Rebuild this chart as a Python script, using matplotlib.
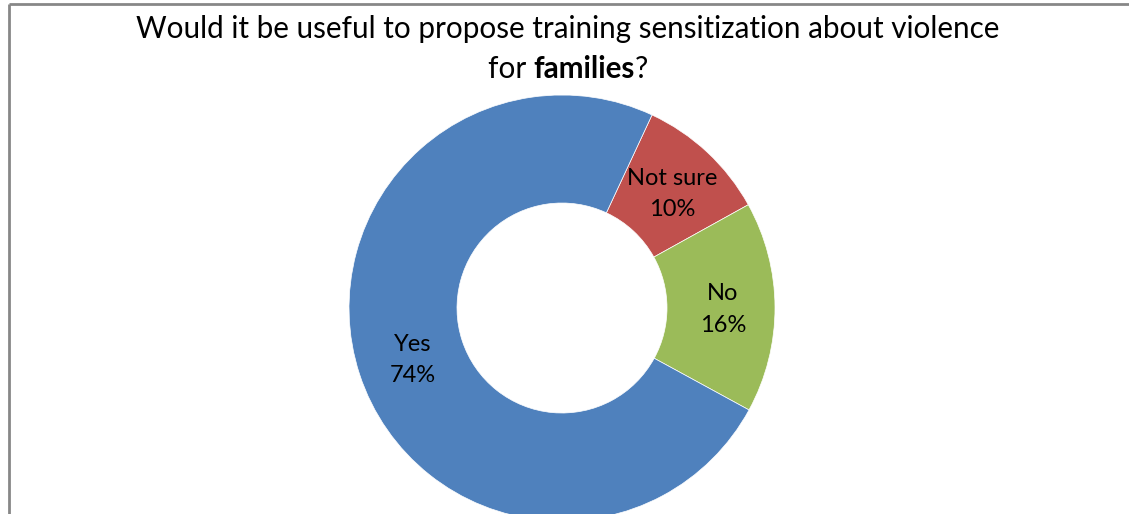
import matplotlib
matplotlib.use("Agg")
import matplotlib.pyplot as plt
import numpy as np

# Survey answers
categories = ["Not sure", "No", "Yes"]
shares = [10, 16, 74]
colors = ["#C0504D", "#9BBB59", "#4F81BD"]

title_line1 = "Would it be useful to propose training sensitization about violence"
title_pre, title_bold, title_post = "for ", "families", "?"

FONT = "Lato"
W, H = 1129, 514
TITLE_SIZE = 21.3
LABEL_SIZE = 17

fig = plt.figure(figsize=(W / 100, H / 100), dpi=100)
ax = fig.add_axes([0, 0, 1, 1])

# doughnut
cx, cy = 562, H - 308
r_out, r_in = 213, 105
wedges, _ = ax.pie(shares, colors=colors, startangle=65, counterclock=False,
                   center=(cx, cy), radius=r_out, frame=True,
                   wedgeprops=dict(width=r_out - r_in, edgecolor="white", linewidth=0.5))
ax.set_xlim(0, W)
ax.set_ylim(0, H)
ax.set_aspect("equal")
ax.axis("off")

# chart frame
frame_kw = dict(color="#878787", lw=2, solid_capstyle="butt")
ax.plot([9, 9], [0, H - 4], **frame_kw)
ax.plot([9, W], [H - 4, H - 4], **frame_kw)

r_lab = (r_out + r_in) / 2
for w, name, val in zip(wedges, categories, shares):
    ang = np.deg2rad((w.theta1 + w.theta2) / 2)
    x = cx + r_lab * np.cos(ang)
    y = cy + r_lab * np.sin(ang)
    ax.text(x + 2, y - 2, f"{name}\n{val}%", ha="center", va="center", fontsize=LABEL_SIZE,
            family=FONT, linespacing=1.6, color="black")

# title
title_x = 568
ax.text(title_x, H - 38, title_line1, ha="center", va="baseline",
        fontsize=TITLE_SIZE, family=FONT)
t1 = ax.text(title_x, H - 78, title_pre, ha="left", va="baseline",
             fontsize=TITLE_SIZE, family=FONT)
t2 = ax.annotate(title_bold, xy=(1, 0), xycoords=t1, ha="left", va="bottom",
                 fontsize=TITLE_SIZE, family=FONT, fontweight="bold")
t3 = ax.annotate(title_post, xy=(1, 0), xycoords=t2, ha="left", va="bottom",
                 fontsize=TITLE_SIZE, family=FONT)

# centre the mixed-weight second title line
renderer = fig.canvas.get_renderer()
left = t1.get_window_extent(renderer).x0
right = t3.get_window_extent(renderer).x1
t1.set_x(title_x - (right - left) / 2)

fig.savefig("out.png", dpi=100)
